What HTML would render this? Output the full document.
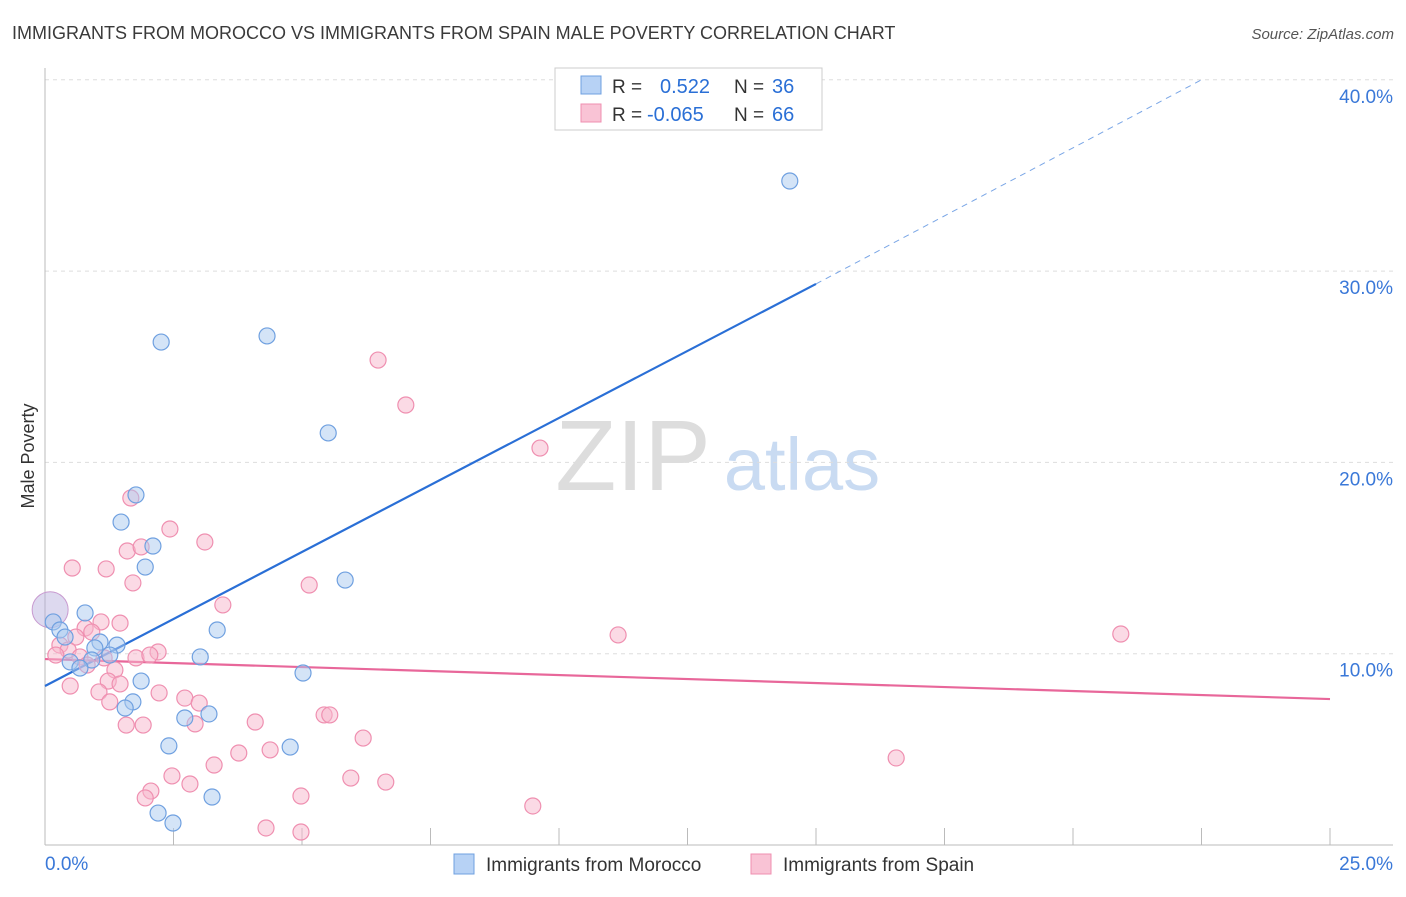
<!DOCTYPE html>
<html><head><meta charset="utf-8"><style>
body{margin:0;background:#fff;font-family:"Liberation Sans",sans-serif;}
svg text{font-family:"Liberation Sans",sans-serif;}
</style></head><body>
<svg id="chart" width="1406" height="892" xmlns="http://www.w3.org/2000/svg">
<text x="12" y="39" font-size="18" fill="#3a3a3a">IMMIGRANTS FROM MOROCCO VS IMMIGRANTS FROM SPAIN MALE POVERTY CORRELATION CHART</text>
<text x="1394" y="39" font-size="15" fill="#555" text-anchor="end" font-style="italic">Source: ZipAtlas.com</text>
<text transform="translate(34,456) rotate(-90)" font-size="18" fill="#333" text-anchor="middle">Male Poverty</text>
<g>
<text x="633" y="490" font-size="100" fill="#ddd" text-anchor="middle" font-family="Liberation Serif, serif">ZIP</text>
<text x="802" y="490" font-size="74" fill="#c9dbf2" text-anchor="middle">atlas</text>
</g>
<g id="grid"></g><g id="axes"></g><g id="lines"></g><g id="points"></g>
<g>
<rect x="555" y="68" width="267" height="62" fill="#fff" stroke="#ccc"/>
<rect x="581" y="76" width="20" height="18" fill="#b7d2f5" stroke="#6fa0e0"/>
<rect x="581" y="104" width="20" height="18" fill="#f9c3d5" stroke="#ef8fb0"/>
<text x="612" y="93" font-size="19" fill="#333">R =</text>
<text x="660" y="93" font-size="20" fill="#2a6fd6">0.522</text>
<text x="734" y="93" font-size="19" fill="#333">N =</text>
<text x="772" y="93" font-size="20" fill="#2a6fd6">36</text>
<text x="612" y="121" font-size="19" fill="#333">R =</text>
<text x="647" y="121" font-size="20" fill="#2a6fd6">-0.065</text>
<text x="734" y="121" font-size="19" fill="#333">N =</text>
<text x="772" y="121" font-size="20" fill="#2a6fd6">66</text>
</g>
<g>
<rect x="454" y="854" width="20" height="20" fill="#b7d2f5" stroke="#6fa0e0"/>
<text x="486" y="871" font-size="19" fill="#333">Immigrants from Morocco</text>
<rect x="751" y="854" width="20" height="20" fill="#f9c3d5" stroke="#ef8fb0"/>
<text x="783" y="871" font-size="19" fill="#333">Immigrants from Spain</text>
</g>
</svg>
<script>
const blueX=[14.49,2.26,4.32,5.51,1.77,1.48,2.10,1.95,5.84,0.78,3.35,0.16,0.29,0.39,1.07,1.40,0.97,1.26,0.91,0.49,0.68,3.02,5.02,1.87,1.71,1.56,3.19,2.72,2.41,4.77,3.25,2.20,2.49];
const blueY=[34.71,26.29,26.61,21.54,18.30,16.88,15.63,14.53,13.85,12.13,11.24,11.66,11.24,10.87,10.61,10.45,10.30,9.93,9.67,9.57,9.25,9.83,8.99,8.57,7.48,7.16,6.85,6.64,5.18,5.12,2.51,1.67,1.15];
const pinkX=[6.48,7.02,9.63,1.67,2.43,3.11,1.60,1.87,0.53,1.19,1.71,5.14,3.46,1.46,1.09,0.78,11.15,20.93,0.60,0.91,0.29,0.45,0.21,0.68,2.20,1.77,2.04,1.36,0.82,1.15,0.49,1.23,1.46,1.05,1.26,2.22,2.72,3.00,1.58,1.91,2.92,4.09,5.43,5.54,6.19,3.77,3.29,4.38,2.47,2.82,5.95,6.63,4.98,2.06,1.95,9.49,4.30,4.98,16.56];
const pinkY=[25.35,23.00,20.75,18.14,16.52,15.84,15.37,15.58,14.48,14.43,13.70,13.59,12.55,11.60,11.66,11.34,10.98,11.03,10.87,11.13,10.45,10.19,9.93,9.83,10.09,9.78,9.93,9.15,9.41,9.78,8.31,8.57,8.42,8.00,7.48,7.95,7.68,7.42,6.27,6.27,6.33,6.43,6.80,6.80,5.59,4.81,4.18,4.97,3.61,3.19,3.50,3.29,2.56,2.82,2.46,2.04,0.89,0.68,4.55];
const bigPoint=[0.10,12.3];
const yTicks=[10,20,30,40];
const yTickLabels=["10.0%","20.0%","30.0%","40.0%"];
const blueLine=[[0,8.31],[15.0,29.33],[22.5,40.0]];
const pinkLine=[[0,9.72],[25,7.63]];
const X=v=>45+v*51.4, Y=v=>845-v*19.13;
const NS="http://www.w3.org/2000/svg";
function mk(p,t,a){const e=document.createElementNS(NS,t);for(const k in a)e.setAttribute(k,a[k]);document.getElementById(p).appendChild(e);return e;}
yTicks.forEach((t,i)=>{
 let g=mk('grid','line',{x1:45,x2:1393,y1:Y(t),y2:Y(t),stroke:'#ddd','stroke-dasharray':'4,4'});
 
 
 let l=mk('axes','text',{x:1393,y:Y(t)+23,'font-size':19,fill:'#3a78d8','text-anchor':'end'});
 l.textContent=yTickLabels[i];
 
 
});
let ax=mk('axes','line',{x1:45,x2:45,y1:68,y2:845,stroke:'#bbb'});


let bx=mk('axes','line',{x1:45,x2:1393,y1:845,y2:845,stroke:'#bbb'});


for(let i=0;i<=10;i++){let t=mk('axes','line',{x1:X(i*2.5),x2:X(i*2.5),y1:828,y2:845,stroke:'#bbb'});
 
 }
let x0=mk('axes','text',{x:45,y:870,'font-size':19,fill:'#3a78d8'});x0.textContent='0.0%';


let x1=mk('axes','text',{x:1393,y:870,'font-size':19,fill:'#3a78d8','text-anchor':'end'});x1.textContent='25.0%';


let bl=mk('lines','line',{x1:X(blueLine[0][0]),y1:Y(blueLine[0][1]),x2:X(blueLine[1][0]),y2:Y(blueLine[1][1]),stroke:'#2a6fd6','stroke-width':2.2});


let bd=mk('lines','line',{x1:X(blueLine[1][0]),y1:Y(blueLine[1][1]),x2:X(blueLine[2][0]),y2:Y(blueLine[2][1]),stroke:'#7aa6e6','stroke-width':1,'stroke-dasharray':'6,5'});


let pl=mk('lines','line',{x1:X(pinkLine[0][0]),y1:Y(pinkLine[0][1]),x2:X(pinkLine[1][0]),y2:Y(pinkLine[1][1]),stroke:'#e8679a','stroke-width':2.2});


let bg1=mk('points','circle',{cx:X(bigPoint[0]),cy:Y(bigPoint[1]),r:18,fill:'rgba(180,170,220,0.45)',stroke:'#c89ad0'});


pinkX.forEach((x,i)=>{let c=mk('points','circle',{cx:X(x),cy:Y(pinkY[i]),r:8,fill:'rgba(247,182,204,0.5)',stroke:'#ef8fb0','stroke-width':1.2});
 
 });
blueX.forEach((x,i)=>{let c=mk('points','circle',{cx:X(x),cy:Y(blueY[i]),r:8,fill:'rgba(169,201,240,0.5)',stroke:'#6fa0e0','stroke-width':1.2});
 
 });
</script>
</body></html>
